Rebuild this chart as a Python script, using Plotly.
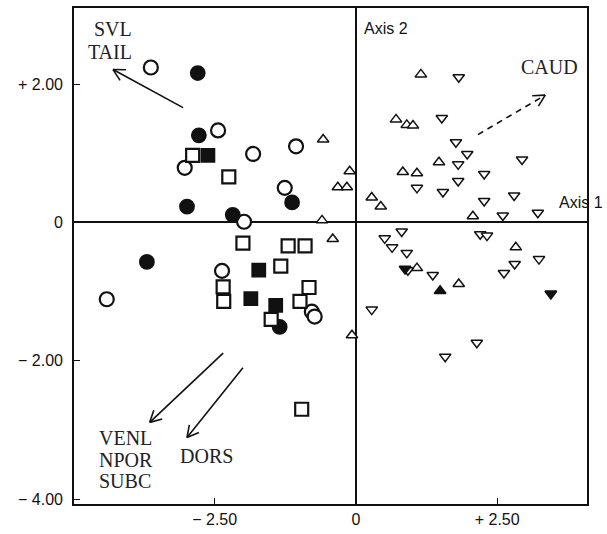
import math
import plotly.graph_objects as go

# ---- data (PCA scores) ----
open_circle_x = [-3.63, -2.44, -1.82, -3.03, -1.06, -1.26, -1.98, -2.37, -4.41, -0.78, -0.73]
open_circle_y = [2.24, 1.33, 0.99, 0.79, 1.10, 0.50, 0.01, -0.70, -1.11, -1.29, -1.36]

filled_circle_x = [-2.80, -2.78, -2.99, -2.18, -1.13, -3.70, -1.35]
filled_circle_y = [2.16, 1.26, 0.23, 0.11, 0.29, -0.57, -1.51]

open_square_x = [-2.89, -2.25, -2.00, -1.20, -0.90, -1.33, -2.35, -2.34, -0.83, -0.99, -1.50, -0.96]
open_square_y = [0.97, 0.66, -0.30, -0.34, -0.34, -0.63, -0.93, -1.14, -0.94, -1.14, -1.40, -2.70]

filled_square_x = [-2.62, -1.72, -1.86, -1.42]
filled_square_y = [0.97, -0.69, -1.10, -1.20]

open_tri_up_x = [-0.58, -0.11, -0.32, -0.16, -0.60, -0.41, -0.07, 1.15, 0.71, 0.90, 1.01,
                 1.47, 0.83, 1.08, 0.28, 0.44, 2.07, 2.83, 1.08, 1.82]
open_tri_up_y = [1.20, 0.74, 0.51, 0.51, 0.03, -0.24, -1.63, 2.14, 1.49, 1.41, 1.40,
                 0.87, 0.73, 0.71, 0.36, 0.23, 0.09, -0.36, -0.66, -0.89]

open_tri_down_x = [1.82, 1.52, 1.77, 1.97, 1.81, 2.94, 2.27, 1.81, 1.08, 1.54, 2.27, 2.80,
                   2.60, 3.22, 0.81, 0.51, 0.64, 2.20, 2.32, 0.90, 3.24, 2.81, 2.62, 0.92,
                   1.36, 0.28, 2.14, 1.58]
open_tri_down_y = [2.10, 1.51, 1.16, 0.99, 0.84, 0.91, 0.70, 0.60, 0.50, 0.44, 0.31, 0.39,
                   0.10, 0.14, -0.13, -0.23, -0.36, -0.17, -0.19, -0.44, -0.53, -0.60, -0.73, -0.69,
                   -0.76, -1.26, -1.74, -1.94]

filled_tri_up_x = [1.49]
filled_tri_up_y = [-0.99]

filled_tri_down_x = [3.45, 0.87]
filled_tri_down_y = [-1.03, -0.67]

# loading vectors (tail x, tail y, head x, head y)
vec_svl = [-3.06, 1.66, -4.30, 2.21]
vec_venl = [-2.35, -1.89, -3.65, -2.89]
vec_dors = [-2.00, -2.10, -2.99, -3.11]
vec_caud = [2.16, 1.27, 3.35, 1.84]

x_ticks = [-2.5, 0, 2.5]
x_tick_text = ["\u2212 2.50", "0", "+ 2.50"]
y_ticks = [2, 0, -2, -4]
y_tick_text = ["+ 2.00", "0", "\u2212 2.00", "\u2212 4.00"]

# ---- figure ----
INK = "#111111"
X_RANGE = [-4.99, 4.09]
Y_RANGE = [-4.07, 3.10]
W, H = 607, 534
ML, MR, MT, MB = 74, 20, 6, 26
PX_X = (W - ML - MR) / (X_RANGE[1] - X_RANGE[0])
PX_Y = (H - MT - MB) / (Y_RANGE[1] - Y_RANGE[0])

fig = go.Figure()


def add(xs, ys, symbol, size, filled, lw=1.8):
    fig.add_trace(go.Scatter(
        x=xs, y=ys, mode="markers", showlegend=False, hoverinfo="skip",
        marker=dict(symbol=symbol, size=size,
                    color=INK if filled else "white",
                    line=dict(color=INK, width=lw)),
        cliponaxis=False,
    ))


add(open_circle_x, open_circle_y, "circle", 14, False, 2.2)
add(filled_circle_x, filled_circle_y, "circle", 14, True)
add(open_square_x, open_square_y, "square", 13, False, 2.2)
add(filled_square_x, filled_square_y, "square", 13, True)
add(open_tri_up_x, open_tri_up_y, "triangle-up", 10, False, 1.5)
add(open_tri_down_x, open_tri_down_y, "triangle-down", 10, False, 1.5)
add(filled_tri_up_x, filled_tri_up_y, "triangle-up", 10, True)
add(filled_tri_down_x, filled_tri_down_y, "triangle-down", 10, True)

shapes = []


def arrow(v, dash="solid"):
    x0, y0, x1, y1 = v
    shapes.append(dict(type="line", x0=x0, y0=y0, x1=x1, y1=y1, xref="x", yref="y",
                       line=dict(color=INK, width=1.6, dash=dash)))
    # arrowhead (open V) computed in pixel space
    dx = (x1 - x0) * PX_X
    dy = (y1 - y0) * PX_Y
    ang = math.atan2(dy, dx)
    L = 13
    for s in (1, -1):
        a = ang + math.pi + s * math.radians(28)
        hx = x1 + L * math.cos(a) / PX_X
        hy = y1 + L * math.sin(a) / PX_Y
        shapes.append(dict(type="line", x0=x1, y0=y1, x1=hx, y1=hy, xref="x", yref="y",
                           line=dict(color=INK, width=1.6)))


arrow(vec_svl)
arrow(vec_venl)
arrow(vec_dors)
arrow(vec_caud, dash="6px,5px")

serif = dict(family="Liberation Serif, Times New Roman, serif", size=20, color="#222222")
sans = dict(family="Liberation Sans, Arial, sans-serif", size=16, color="#111111")

ann = []


def txt(x, y, t, font, xanchor="center"):
    ann.append(dict(x=x, y=y, xref="x", yref="y", text=t, showarrow=False,
                    font=font, xanchor=xanchor, yanchor="middle"))


txt(-4.30, 2.80, "SVL", serif)
txt(-4.35, 2.47, "TAIL", serif)
txt(-4.58, -3.12, "VENL", serif, "left")
txt(-4.58, -3.43, "NPOR", serif, "left")
txt(-4.58, -3.74, "SUBC", serif, "left")
txt(-2.64, -3.37, "DORS", serif)
txt(3.43, 2.24, "CAUD", serif)
txt(0.10, 2.81, "Axis 2", sans, "left")
txt(3.56, 0.29, "Axis 1", sans, "left")

axis_common = dict(
    showgrid=False, zeroline=True, zerolinecolor=INK, zerolinewidth=1.5,
    showline=True, linecolor=INK, linewidth=1.6, mirror=True,
    ticks="inside", ticklen=6, tickcolor=INK, tickwidth=1.2,
    tickfont=dict(family="Liberation Sans, Arial, sans-serif", size=16, color="#111111"),
)

fig.update_layout(
    width=W, height=H,
    margin=dict(l=ML, r=MR, t=MT, b=MB),
    paper_bgcolor="white", plot_bgcolor="white",
    xaxis=dict(range=X_RANGE, tickvals=x_ticks, ticktext=x_tick_text, **axis_common),
    yaxis=dict(range=Y_RANGE, tickvals=y_ticks, ticktext=y_tick_text,
               ticklabelstandoff=6, **axis_common),
    shapes=shapes, annotations=ann, showlegend=False,
)

fig.write_html(
    "out.html",
    config={"displayModeBar": False},
    post_script="document.body.style.margin='0';document.body.style.overflow='hidden';",
)
